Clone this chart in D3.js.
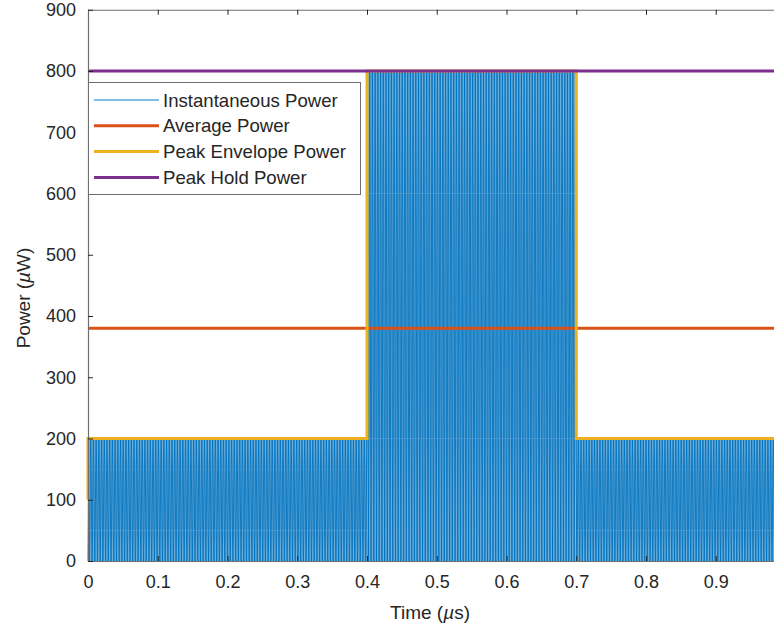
<!DOCTYPE html>
<html>
<head>
<meta charset="utf-8">
<script src="https://cdn.jsdelivr.net/npm/d3@7"></script>
<style>
  body { margin: 0; background: #fff; }
  svg { display: block; font-family: "Liberation Sans", Arial, sans-serif; }
</style>
</head>
<body>
<svg id="chart"></svg>
<script>
// data
const segStart = [0, 0.4, 0.7];        // µs
const segEnd = [0.4, 0.7, 1.0];
const segPeak = [200, 800, 200];       // µW, peak of the instantaneous power
const powerCycles = 440;               // oscillations of power per µs
const avgT = [0, 1.0];
const avgP = [380, 380];
const envT = [0, 0, 0.4, 0.4, 0.7, 0.7, 1.0];
const envP = [100, 200, 200, 800, 800, 200, 200];
const holdT = [0, 1.0];
const holdP = [800, 800];
const xTicks = [0, 0.1, 0.2, 0.3, 0.4, 0.5, 0.6, 0.7, 0.8, 0.9];
const yTicks = [0, 100, 200, 300, 400, 500, 600, 700, 800, 900];
const legendNames = ['Instantaneous Power', 'Average Power', 'Peak Envelope Power', 'Peak Hold Power'];
const colors = ['#0072BD', '#D95319', '#EDB120', '#7E2F8E'];

const width = 774;
const height = 633;
const padLeft = 88, padTop = 9.75, padBottom = 561;

const svg = d3.select('#chart')
  .attr('width', width)
  .attr('height', height);

const x = d3.scaleLinear().domain([0, 1]).range([padLeft, padLeft + 697.5]);
const y = d3.scaleLinear().domain([0, 900]).range([padBottom, padTop]);

// instantaneous power: sampled oscillation under each segment's peak
const inst = [];
segStart.forEach((s, k) => {
  const n = Math.round((segEnd[k] - s) * powerCycles * 6);
  for (let i = 0; i <= n; i++) {
    const t = s + (segEnd[k] - s) * i / n;
    const ph = Math.sin(Math.PI * powerCycles * t);
    inst.push([t, segPeak[k] * ph * ph]);
  }
});

const plot = svg.append('g');
const line = d3.line().x(d => x(d[0])).y(d => y(d[1]));

plot.append('path')
  .datum(inst)
  .attr('d', line)
  .attr('fill', 'none')
  .attr('stroke', colors[0])
  .attr('stroke-width', 0.9);

plot.append('path')
  .datum(avgT.map((t, i) => [t, avgP[i]]))
  .attr('d', line)
  .attr('fill', 'none')
  .attr('stroke', colors[1])
  .attr('stroke-width', 3);

plot.append('path')
  .datum(envT.map((t, i) => [t, envP[i]]))
  .attr('d', line)
  .attr('fill', 'none')
  .attr('stroke', colors[2])
  .attr('stroke-width', 3);

plot.append('path')
  .datum(holdT.map((t, i) => [t, holdP[i]]))
  .attr('d', line)
  .attr('fill', 'none')
  .attr('stroke', colors[3])
  .attr('stroke-width', 3);

// axes (MATLAB style: ticks inside, box on)
const axisColor = '#262626';
const xAxis = svg.append('g')
  .attr('transform', `translate(0,${padBottom})`)
  .call(d3.axisBottom(x).tickValues(xTicks).tickFormat(d3.format('')).tickSizeInner(-5).tickSizeOuter(0).tickPadding(14));
const xTop = svg.append('g')
  .attr('transform', `translate(0,${padTop})`)
  .call(d3.axisTop(x).tickValues(xTicks).tickFormat('').tickSizeInner(-5).tickSizeOuter(0));
const yAxis = svg.append('g')
  .attr('transform', `translate(${padLeft},0)`)
  .call(d3.axisLeft(y).tickValues(yTicks).tickSizeInner(-5).tickSizeOuter(0).tickPadding(12));

[xAxis, xTop, yAxis].forEach(g => {
  g.select('.domain').attr('stroke', '#6e6e6e').attr('stroke-width', 1.2);
  g.selectAll('.tick line').attr('stroke', axisColor).attr('stroke-width', 1);
  g.selectAll('.tick text').attr('fill', axisColor).style('font-size', '18px').attr('font-family', null);
});

// axis labels
svg.append('text')
  .attr('x', 430)
  .attr('y', 619)
  .attr('text-anchor', 'middle')
  .attr('fill', axisColor)
  .style('font-size', '19px')
  .html('Time (<tspan font-style="italic">µ</tspan>s)');

svg.append('text')
  .attr('transform', 'translate(30,298) rotate(-90)')
  .attr('text-anchor', 'middle')
  .attr('fill', axisColor)
  .style('font-size', '19px')
  .html('Power (<tspan font-style="italic">µ</tspan>W)');

// legend
const legend = svg.append('g');
legend.append('rect')
  .attr('x', 88.5)
  .attr('y', 82.5)
  .attr('width', 272)
  .attr('height', 112)
  .attr('fill', '#fff')
  .attr('stroke', '#6e6e6e')
  .attr('stroke-width', 1);

legendNames.forEach((name, i) => {
  const ly = 100 + i * 25.8;
  legend.append('line')
    .attr('x1', 94).attr('x2', 159)
    .attr('y1', ly).attr('y2', ly)
    .attr('stroke', i === 0 ? '#5aa7dd' : colors[i])
    .attr('stroke-width', i === 0 ? 1.5 : 3);
  legend.append('text')
    .attr('x', 163)
    .attr('y', ly + 6.5)
    .attr('fill', axisColor)
    .style('font-size', '18.6px')
    .text(name);
});
</script>
</body>
</html>
